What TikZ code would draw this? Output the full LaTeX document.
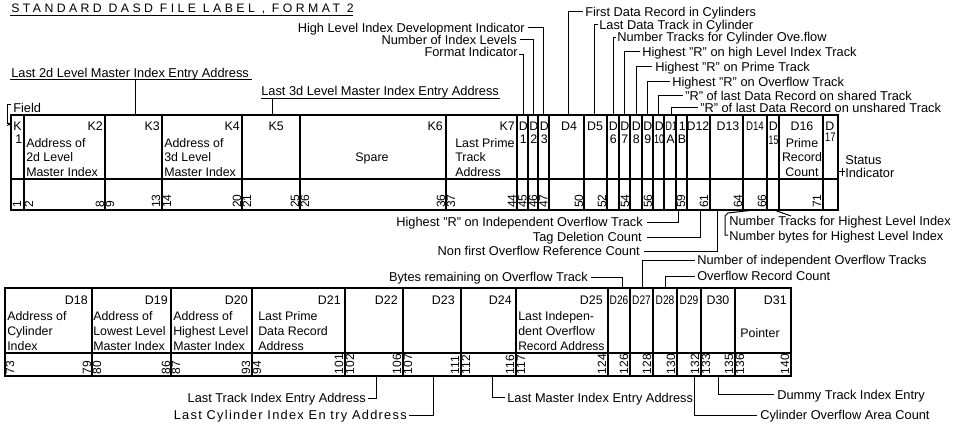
\documentclass[tikz,border=0pt]{standalone}
\usepackage{fontspec}
\setmainfont{Liberation Sans}
\usetikzlibrary{arrows.meta}
\begin{document}
\begin{tikzpicture}[x=0.75pt,y=-0.75pt,
  every node/.style={inner sep=0pt},
  hdr/.style={font=\fontsize{9.6}{11}\selectfont},
  cell/.style={font=\fontsize{9.3}{11}\selectfont},
  num/.style={rotate=90,anchor=west,font=\fontsize{9}{9}\selectfont},
  outer/.style={line width=1.7pt},
  grid/.style={line width=0.9pt},
  sep/.style={line width=1.3pt},
  lead/.style={line width=0.75pt},
  hw/.style={hdr,anchor=base west},
  he/.style={hdr,anchor=base east},
  cw/.style={cell,anchor=base west},
  ce/.style={cell,anchor=base east},
  cc/.style={cell,anchor=base},
]
\useasboundingbox (0,0) rectangle (960,424);

% title
\node[anchor=base west,font=\fontsize{9.2}{10}\selectfont\addfontfeatures{LetterSpace=28}] (title) at (11,13) {STANDARD DASD FILE LABEL , FORMAT 2};
\draw[lead] (10,16) -- (353,16);

% upper-left headers
\node[hw] (lm2) at (11,77.7) {Last 2d Level Master Index Entry Address};
\draw[lead] (10,80) -- (252,80);
\draw[lead] (135,80) -- (135,115);
\node[hw] (lm3) at (261,95.7) {Last 3d Level Master Index Entry Address};
\draw[lead] (261,99) -- (500,99);
\draw[lead] (272,99) -- (272,115);
\node[hw] (fld) at (13,112.5) {Field};
\draw[lead,-{Stealth[length=4pt,width=3pt]}] (11,105) -- (7,105) -- (7,124) -- (12,124);

% ===== top table =====
\draw[outer] (11,115) rectangle (838,210);
\draw[sep] (11,179) -- (838,179);
\foreach \x in {24,105,162,242,300,446,517,528,538,549,584,607,619,630,642,653,664,676,687,710,743,767,779,823}
  \draw[grid] (\x,115) -- (\x,210);

\node[cw] (k1a) at (13,130.5) {K};
\node[cw] (k1b) at (15,143.5) {1};
\node[ce] (k2) at (103,130.5) {K2};
\node[cw] at (26,147.5) {Address of};
\node[cw] at (26,161.5) {2d Level};
\node[cw] at (26,176) {Master Index};
\node[ce] (k3) at (160,130.5) {K3};
\node[ce] (k4) at (240,130.5) {K4};
\node[cw] at (164,147.5) {Address of};
\node[cw] at (164,161.5) {3d Level};
\node[cw] at (164,176) {Master Index};
\node[ce] (k5) at (284,130.5) {K5};
\node[ce] (k6) at (443,130.5) {K6};
\node[cc] (spare) at (372,161.5) {Spare};
\node[ce] (k7) at (515,130.5) {K7};
\node[cw] at (455,147.5) {Last Prime};
\node[cw] at (455,161.5) {Track};
\node[cw] at (455,176) {Address};
\foreach \x/\d in {518.5/1,529/2,539.5/3,608.5/6,620/7,631.5/8,643/9}
  {\node[cw] at (\x,130.5) {D}; \node[cw] at (\x+1,143.5) {\d};}
\node[cw] at (654.5,130.5) {D};
\node[cw,xscale=0.72] at (654,143.5) {10};
\node[cc] (d4) at (569,130.5) {D4};
\node[cc] (d5) at (595,130.5) {D5};
\node[cw,xscale=0.72] at (665.5,130.5) {D1};
\node[cw] at (678.5,130.5) {1};
\node[cw] at (666,143.5) {A};
\node[cw] at (677.5,143.5) {B};
\node[cc] (d12) at (698,130.5) {D12};
\node[cc] (d13) at (728,130.5) {D13};
\node[cc,xscale=0.78] (d14) at (755,130.5) {D14};
\node[cw] at (768.5,130.5) {D};
\node[cw,xscale=0.7] at (768.5,145) {15};
\node[cc] (d16) at (802,130.5) {D16};
\node[cc] at (802,147.5) {Prime};
\node[cc] at (802,161.5) {Record};
\node[cc] at (802,176) {Count};
\node[cw] at (825,130.5) {D};
\node[cw,xscale=0.75] at (825,141.5) {17};

\foreach \t/\x in {1/17,2/29,8/100,9/110,13/156,14/167,20/237,21/247,25/295,26/305,36/441,37/451,44/512,45/522.5,46/533,47/543.5,50/579,52/602,54/625,56/648,59/681,61/704,64/738,66/762,71/817}
  \node[num] at (\x,208) {\t};

% status indicator
\node[hw] (st1) at (845,164.7) {Status};
\node[hw] (st2) at (845,177.7) {Indicator};
\draw[lead] (838,172) -- (845,172);
\draw[lead] (842,168) -- (842,176);

% headers above top table (left group)
\node[he] (h1) at (525,32.7) {High Level Index Development Indicator};
\draw[lead] (528,28) -- (543,28) -- (543,115);
\node[he] (h2) at (517,44.7) {Number of Index Levels};
\draw[lead] (520,40) -- (533,40) -- (533,115);
\node[he] (h3) at (518,56.7) {Format Indicator};
\draw[lead] (519,55) -- (523,55) -- (523,115);

% headers above top table (right group)
\node[hw] (h4) at (585,16.7) {First Data Record in Cylinders};
\draw[lead] (568,115) -- (568,12) -- (583,12);
\node[hw] (h5) at (599,29.7) {Last Data Track in Cylinder};
\draw[lead] (594,115) -- (594,25) -- (598,25);
\node[hw] (h6) at (617,41.7) {Number Tracks for Cylinder Ove.flow};
\draw[lead] (613,115) -- (613,38) -- (616,38);
\node[hw] (h7) at (642,56.7) {Highest "R" on high Level Index Track};
\draw[lead] (624,115) -- (624,52) -- (640,52);
\node[hw] (h8) at (655,71.7) {Highest "R" on Prime Track};
\draw[lead] (636,115) -- (636,67) -- (652,67);
\node[hw] (h9) at (672,86.7) {Highest "R" on Overflow Track};
\draw[lead] (647,115) -- (647,82) -- (670,82);
\node[hw] (h10) at (685,100.7) {"R" of last Data Record on shared Track};
\draw[lead] (658,115) -- (658,96) -- (683,96);
\node[hw] (h11) at (700,112.7) {"R" of last Data Record on unshared Track};
\draw[lead] (671,115) -- (671,108) -- (698,108);

% labels below top table
\node[he] (h12) at (643,226.7) {Highest "R" on Independent Overflow Track};
\draw[lead] (647,222) -- (678,222) -- (678,210);
\node[he] (h13) at (642,241.7) {Tag Deletion Count};
\draw[lead] (647,237) -- (700,237) -- (700,210);
\node[he] (h14) at (640,255.7) {Non first Overflow Reference Count};
\draw[lead] (644,251) -- (717,251) -- (717,210);
\node[hw] (h15) at (729,225.7) {Number Tracks for Highest Level Index};
\draw[lead] (774,210) -- (791,216);
\node[hw] (h16) at (729,240.7) {Number bytes for Highest Level Index};
\draw[lead] (754,210) -- (728,213) -- (725,216) -- (725,235) -- (728,235);

% labels above bottom table
\node[he] (h17) at (588,281.7) {Bytes remaining on Overflow Track};
\draw[lead] (591,277) -- (622,277) -- (622,288);
\node[hw] (h18) at (697,264.7) {Number of independent Overflow Tracks};
\draw[lead] (642,288) -- (642,260) -- (695,260);
\node[hw] (h19) at (697,280.7) {Overflow Record Count};
\draw[lead] (665,288) -- (665,276) -- (695,276);

% ===== bottom table =====
\draw[outer] (5,288) rectangle (791,376);
\draw[sep] (5,353) -- (791,353);
\foreach \x in {92,171,252,345,403,461,516,608,630,653,677,701,735}
  \draw[grid] (\x,288) -- (\x,376);

\node[ce] (d18) at (88,304.5) {D18};
\node[cw] at (7,320.5) {Address of};
\node[cw] at (7,335.5) {Cylinder};
\node[cw] at (7,350) {Index};
\node[ce] (d19) at (168,304.5) {D19};
\node[cw] at (93,320.5) {Address of};
\node[cw] at (93,335.5) {Lowest Level};
\node[cw] at (93,350) {Master Index};
\node[ce] (d20) at (248,304.5) {D20};
\node[cw] at (173,320.5) {Address of};
\node[cw] at (173,335.5) {Highest Level};
\node[cw] at (173,350) {Master Index};
\node[ce] (d21) at (341,304.5) {D21};
\node[cw] at (258,320.5) {Last Prime};
\node[cw] at (258,335.5) {Data Record};
\node[cw] at (258,350) {Address};
\node[ce] (d22) at (398,304.5) {D22};
\node[ce] (d23) at (455,304.5) {D23};
\node[ce] (d24) at (512,304.5) {D24};
\node[ce] (d25) at (603,304.5) {D25};
\node[cw] at (518,320.5) {Last Indepen-};
\node[cw] at (518,335.5) {dent Overflow};
\node[cw,xscale=0.97] at (518,350) {Record Address};
\node[cc,xscale=0.82] (d26) at (619,304.5) {D26};
\node[cc,xscale=0.82] (d27) at (641.5,304.5) {D27};
\node[cc,xscale=0.82] (d28) at (665,304.5) {D28};
\node[cc,xscale=0.82] (d29) at (689,304.5) {D29};
\node[cc] (d30) at (718,304.5) {D30};
\node[ce] (d31) at (787,304.5) {D31};
\node[cc] (ptr) at (760,337.5) {Pointer};

\foreach \t/\x in {73/10,79/87,80/97,86/166,87/176,93/246,94/257,101/339,102/350,106/397,107/408,111/455,112/466,116/510,117/521,124/602,126/624,128/647,130/671,132/695,133/706,135/729,136/740,140/785}
  \node[num] at (\x,374.5) {\t};

% labels below bottom table
\node[he] (h20) at (366,402.7) {Last Track Index Entry Address};
\draw[lead] (368,398) -- (376,398) -- (376,376);
\node[he,font=\fontsize{9.6}{11}\selectfont\addfontfeatures{LetterSpace=10}] (h21) at (407,419.7) {Last Cylinder Index En try Address};
\draw[lead] (409,415) -- (433,415) -- (433,376);
\node[hw] (h22) at (507,402.7) {Last Master Index Entry Address};
\draw[lead] (492,376) -- (492,397) -- (505,397);
\node[hw] (h23) at (760,419.7) {Cylinder Overflow Area Count};
\draw[lead] (694,376) -- (694,415) -- (757,415);
\node[hw] (h24) at (777,399.7) {Dummy Track Index Entry};
\draw[lead] (718,376) -- (718,394) -- (774,394);
\end{tikzpicture}
\end{document}
